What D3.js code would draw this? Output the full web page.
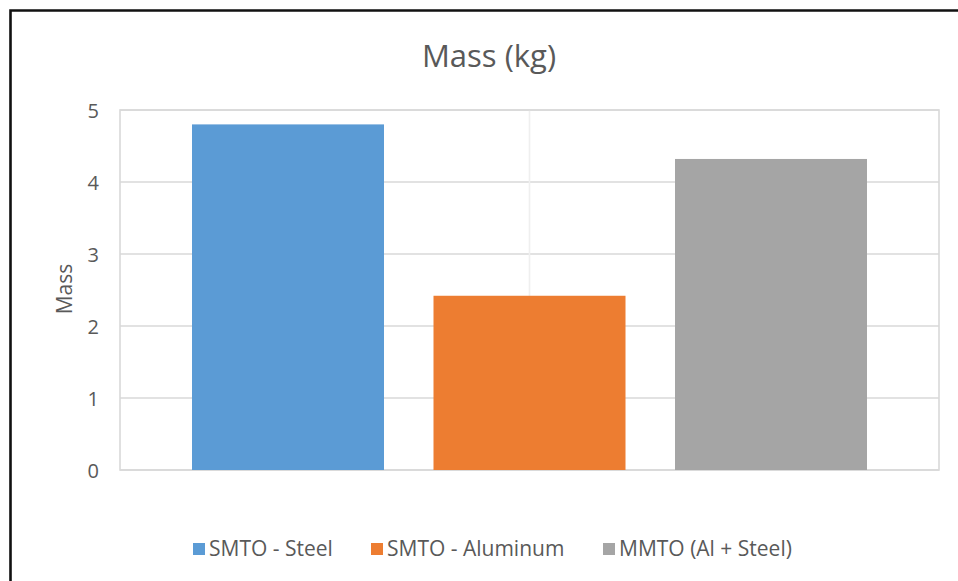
<!DOCTYPE html>
<html>
<head>
<meta charset="utf-8">
<script src="https://cdn.jsdelivr.net/npm/d3@7/dist/d3.min.js"></script>
<style>
  html, body { margin: 0; padding: 0; background: #fff; }
  svg { display: block; }
  text { font-family: "Open Sans", "Noto Sans", sans-serif; fill: #595959; }
</style>
</head>
<body>
<svg id="chart" width="958" height="581"></svg>
<script>
// Mass of each design option
const seriesNames = ["SMTO - Steel", "SMTO - Aluminum", "MMTO (Al + Steel)"];
const massValues = [4.80, 2.42, 4.32];
const seriesColors = ["#5b9bd5", "#ed7d31", "#a5a5a5"];
const yTicks = [0, 1, 2, 3, 4, 5];
const chartTitle = "Mass (kg)";
const yAxisTitle = "Mass";

const svg = d3.select("#chart");

// Outer frame (top and left edges visible)
svg.append("path")
  .attr("d", "M10.5,590 L10.5,10.5 L970,10.5")
  .attr("fill", "none")
  .attr("stroke", "#111")
  .attr("stroke-width", 2.6);

const plot = { left: 120, right: 939, top: 110, bottom: 470 };

const y = d3.scaleLinear().domain([0, 5]).range([plot.bottom, plot.top]);

// Bars share one category; outer gaps are wider than the gaps between bars
const barW = 192, gap = 49.5, outer = 72;
const xPos = d3.scaleOrdinal()
  .domain(seriesNames)
  .range(seriesNames.map((_, i) => plot.left + outer + i * (barW + gap)));

// Horizontal gridlines
svg.append("g")
  .selectAll("line")
  .data(yTicks)
  .join("line")
  .attr("x1", plot.left)
  .attr("x2", plot.right)
  .attr("y1", d => y(d))
  .attr("y2", d => y(d))
  .attr("stroke", "#d9d9d9")
  .attr("stroke-width", 1.6);

// Faint vertical center gridline
svg.append("line")
  .attr("x1", (plot.left + plot.right) / 2)
  .attr("x2", (plot.left + plot.right) / 2)
  .attr("y1", plot.top)
  .attr("y2", plot.bottom)
  .attr("stroke", "#efefef")
  .attr("stroke-width", 1.6);

// Plot area border
svg.append("rect")
  .attr("x", plot.left)
  .attr("y", plot.top)
  .attr("width", plot.right - plot.left)
  .attr("height", plot.bottom - plot.top)
  .attr("fill", "none")
  .attr("stroke", "#d9d9d9")
  .attr("stroke-width", 1.6);

// Bars
svg.append("g")
  .selectAll("rect")
  .data(seriesNames.map((n, i) => ({ name: n, value: massValues[i], color: seriesColors[i] })))
  .join("rect")
  .attr("x", d => xPos(d.name))
  .attr("y", d => y(d.value))
  .attr("width", barW)
  .attr("height", d => y(0) - y(d.value))
  .attr("fill", d => d.color);

// Y axis tick labels
const yAxis = d3.axisLeft(y).tickValues(yTicks).tickSize(0).tickPadding(0).tickFormat(d3.format("d"));
const gy = svg.append("g")
  .attr("transform", `translate(${plot.left - 21},0)`)
  .call(yAxis);
gy.select(".domain").remove();
gy.selectAll("text")
  .attr("font-family", "\"Open Sans\", sans-serif")
  .attr("font-size", 20)
  .attr("fill", "#595959")
  .attr("dy", "0.36em");

// Title
svg.append("text")
  .attr("x", 489)
  .attr("y", 67)
  .attr("text-anchor", "middle")
  .attr("font-size", 31)
  .text(chartTitle);

// Y axis title
svg.append("text")
  .attr("transform", "translate(72,289) rotate(-90)")
  .attr("text-anchor", "middle")
  .attr("font-size", 21)
  .text(yAxisTitle);

// Legend
const legendX = [193, 371, 603];
const legend = svg.append("g")
  .selectAll("g")
  .data(seriesNames)
  .join("g")
  .attr("transform", (d, i) => `translate(${legendX[i]},549)`);
legend.append("rect")
  .attr("x", 0)
  .attr("y", -6)
  .attr("width", 12)
  .attr("height", 12)
  .attr("fill", (d, i) => seriesColors[i]);
legend.append("text")
  .attr("x", 16)
  .attr("y", 7)
  .attr("font-size", 21)
  .text(d => d);
</script>
</body>
</html>
